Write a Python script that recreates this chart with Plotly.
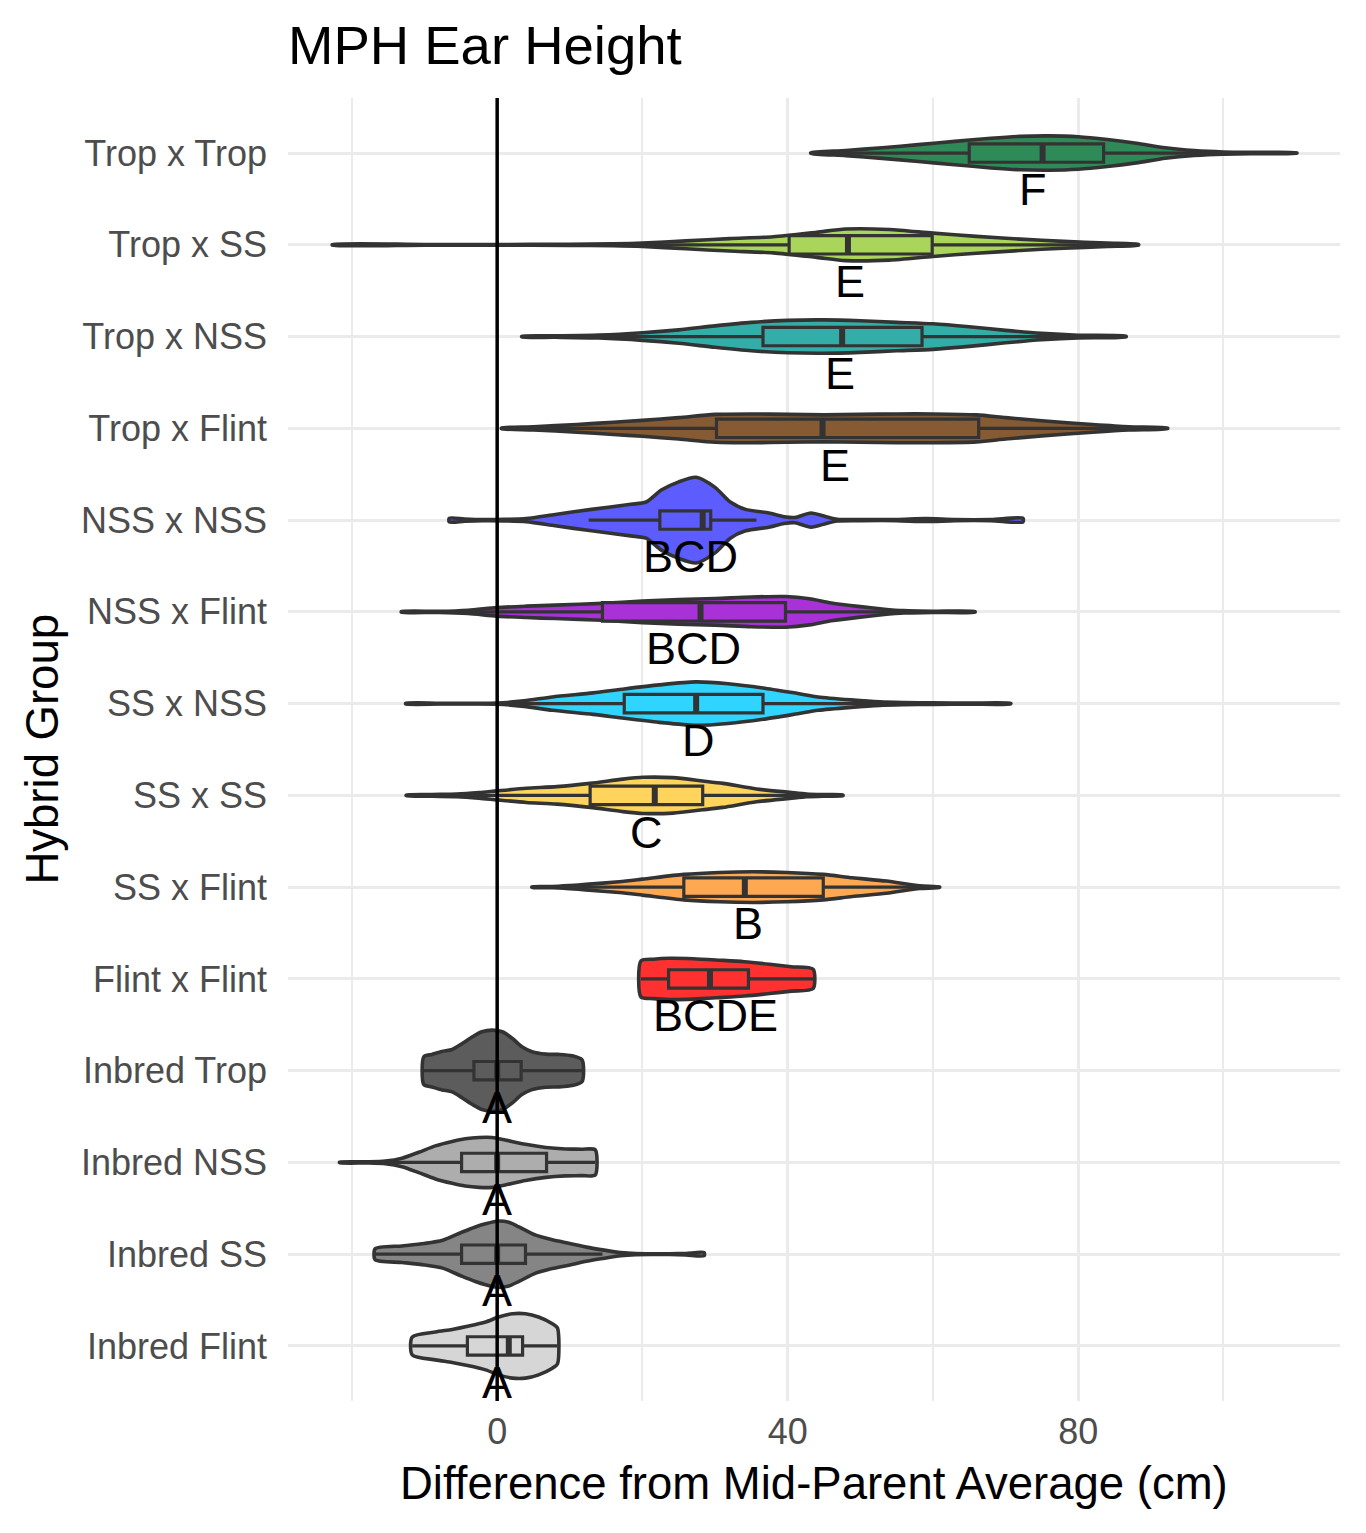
import plotly.graph_objects as go

# ---------------- data ----------------
groups = ["Trop x Trop", "Trop x SS", "Trop x NSS", "Trop x Flint", "NSS x NSS",
          "NSS x Flint", "SS x NSS", "SS x SS", "SS x Flint", "Flint x Flint",
          "Inbred Trop", "Inbred NSS", "Inbred SS", "Inbred Flint"]

colors = ["#2E8B57", "#A9D55B", "#33ADA8", "#865A32", "#5C5CFF", "#A832D8", "#30D5FF",
          "#FFD45C", "#FFA852", "#FF3030", "#5C5C5C", "#ADADAD", "#858585", "#D6D6D6"]

# violin density profiles (value, half-width in category units)
trop_trop_x = [43.2, 48, 53, 58, 63, 68, 72, 76, 80, 84, 88, 92, 96, 100, 105, 110.1]
trop_trop_w = [0.004, 0.028, 0.058, 0.092, 0.127, 0.162, 0.182, 0.187, 0.177, 0.147, 0.107, 0.057, 0.027, 0.012, 0.007, 0.003]

trop_ss_x = [-22.7, -10, 0, 10, 16, 20, 26, 32, 38, 44, 48, 54, 60, 66, 72, 78, 84, 88.3]
trop_ss_w = [0.004, 0.004, 0.004, 0.006, 0.01, 0.018, 0.043, 0.068, 0.088, 0.137, 0.172, 0.167, 0.127, 0.092, 0.062, 0.037, 0.018, 0.004]

trop_nss_x = [3.4, 8, 14, 20, 25, 30, 35, 40, 45, 50, 55, 60, 65, 70, 75, 80, 86.6]
trop_nss_w = [0.004, 0.008, 0.016, 0.041, 0.073, 0.117, 0.155, 0.177, 0.182, 0.172, 0.155, 0.139, 0.107, 0.068, 0.035, 0.014, 0.004]

trop_flint_x = [0.6, 5, 11, 16, 20, 25, 30, 35, 40, 45, 50, 55, 60, 66, 70, 75, 82, 87, 92.3]
trop_flint_w = [0.004, 0.018, 0.042, 0.067, 0.087, 0.117, 0.152, 0.157, 0.152, 0.147, 0.152, 0.157, 0.157, 0.147, 0.117, 0.082, 0.042, 0.018, 0.004]

nss_nss_x = [-6.6, -4.5, -2, 1, 4, 8, 13, 18.4, 20.5, 22.6, 25, 27.4, 30, 32.1, 34.2, 37.4, 39.5, 41, 43.2, 45.3, 46.8, 50, 55, 59, 63, 68, 72.4]
nss_nss_w = [0.02, 0.012, 0.006, 0.008, 0.017, 0.062, 0.117, 0.172, 0.197, 0.327, 0.417, 0.467, 0.357, 0.197, 0.117, 0.077, 0.037, 0.029, 0.077, 0.037, 0.01, 0.006, 0.006, 0.016, 0.006, 0.006, 0.02]

nss_flint_x = [-13.2, -8, -4, 0, 4, 8, 14.5, 20, 25, 30, 35, 39.7, 43, 46, 50, 53, 56, 60, 65.8]
nss_flint_w = [0.004, 0.006, 0.018, 0.047, 0.062, 0.073, 0.092, 0.117, 0.135, 0.145, 0.162, 0.167, 0.142, 0.097, 0.057, 0.032, 0.013, 0.006, 0.004]

ss_nss_x = [-12.6, -8, -4, 0, 3.7, 7.6, 13.2, 17.5, 22.3, 27.3, 31.8, 36.6, 41.4, 44.2, 48.7, 52.7, 56, 60, 65, 70.7]
ss_nss_w = [0.004, 0.004, 0.004, 0.006, 0.03, 0.073, 0.117, 0.16, 0.204, 0.237, 0.217, 0.171, 0.11, 0.073, 0.041, 0.019, 0.012, 0.008, 0.005, 0.004]

ss_ss_x = [-12.5, -9, -5.6, -2.5, 0, 4, 8.2, 12.8, 17.3, 20.1, 24.2, 28.3, 31.1, 35.7, 40.3, 42.6, 45, 47.6]
ss_ss_w = [0.004, 0.01, 0.014, 0.03, 0.049, 0.077, 0.095, 0.131, 0.177, 0.197, 0.193, 0.157, 0.131, 0.07, 0.033, 0.015, 0.008, 0.004]

ss_flint_x = [4.8, 7.6, 10, 12.2, 16.8, 20, 25.7, 30.6, 35.2, 39.8, 44.9, 48.9, 53.6, 58.2, 60.9]
ss_flint_w = [0.004, 0.006, 0.017, 0.03, 0.059, 0.087, 0.139, 0.16, 0.167, 0.16, 0.139, 0.102, 0.066, 0.014, 0.004]

flint_flint_x = [19.8, 21.5, 23.7, 27, 30.6, 34, 37.5, 40.5, 43.5]
flint_flint_w = [0.197, 0.215, 0.225, 0.22, 0.204, 0.187, 0.16, 0.133, 0.106]

inbred_trop_x = [-10.1, -9, -7.6, -6.2, -4.8, -3.4, -2.1, -0.7, 0.7, 2.1, 3.4, 4.8, 6.7, 8.5, 10.3, 11.7]
inbred_trop_w = [0.152, 0.177, 0.21, 0.231, 0.297, 0.369, 0.424, 0.442, 0.424, 0.351, 0.261, 0.207, 0.18, 0.177, 0.163, 0.117]

inbred_nss_x = [-21.7, -17.7, -15.4, -13.1, -10.8, -8.5, -6.2, -4.4, -2.5, -0.7, 1.1, 3.9, 6.7, 9.4, 11.7, 13.5]
inbred_nss_w = [0.004, 0.006, 0.014, 0.046, 0.111, 0.18, 0.228, 0.257, 0.272, 0.272, 0.245, 0.197, 0.163, 0.147, 0.144, 0.137]

inbred_ss_x = [-16.8, -13.1, -10, -7.5, -4.8, -3, -1.6, 0.2, 1.6, 3.0, 5.3, 7.6, 10, 12.3, 14.5, 17, 19.1, 21.5, 23.7, 26, 28.5]
inbred_ss_w = [0.06, 0.09, 0.117, 0.152, 0.242, 0.297, 0.332, 0.362, 0.347, 0.297, 0.207, 0.157, 0.117, 0.077, 0.047, 0.017, 0.006, 0.004, 0.004, 0.008, 0.017]

inbred_flint_x = [-11.7, -8.5, -6.2, -3.9, -1.6, 0.2, 2.1, 3.9, 5.7, 7.6, 8.3]
inbred_flint_w = [0.097, 0.152, 0.18, 0.217, 0.261, 0.315, 0.351, 0.351, 0.315, 0.242, 0.197]

# box-plot statistics
q1 = [65.0, 40.2, 36.6, 30.2, 22.4, 14.5, 17.5, 12.8, 25.7, 23.6, -3.2, -4.9, -4.9, -4.1]
median = [75.1, 48.3, 47.5, 44.8, 28.3, 28.0, 27.4, 21.7, 34.1, 29.3, 0.0, 0.0, 0.0, 1.6]
q3 = [83.5, 59.9, 58.5, 66.3, 29.4, 39.7, 36.6, 28.3, 44.9, 34.6, 3.3, 6.8, 3.9, 3.5]
whisker_lo = [43.2, 14.0, 4.0, 0.6, 12.6, -13.2, -10.5, -10.0, 4.8, 19.8, -10.1, -21.7, -16.8, -11.7]
whisker_hi = [110.1, 88.3, 86.6, 92.3, 35.7, 65.8, 62.0, 47.6, 60.9, 43.5, 11.7, 13.5, 14.5, 8.3]

# significance letters
letters = ["F", "E", "E", "E", "BCD", "BCD", "D", "C", "B", "BCDE", "A", "A", "A", "A"]
letter_x = [73.8, 48.6, 47.2, 46.5, 26.6, 27.0, 27.7, 20.5, 34.6, 30.0, 0.0, 0.0, 0.0, 0.0]

x_ticks = [0, 40, 80]
x_minor = [-20, 20, 60, 100]

# ---------------- figure ----------------
prof_x = [trop_trop_x, trop_ss_x, trop_nss_x, trop_flint_x, nss_nss_x, nss_flint_x, ss_nss_x,
          ss_ss_x, ss_flint_x, flint_flint_x, inbred_trop_x, inbred_nss_x, inbred_ss_x, inbred_flint_x]
prof_w = [trop_trop_w, trop_ss_w, trop_nss_w, trop_flint_w, nss_nss_w, nss_flint_w, ss_nss_w,
          ss_ss_w, ss_flint_w, flint_flint_w, inbred_trop_w, inbred_nss_w, inbred_ss_w, inbred_flint_w]

OUT = "#333333"
LW = 3.6
BOXW = 0.2
n = len(groups)
pos = [n - i for i in range(n)]
FONT = "Liberation Sans, Arial, Helvetica, sans-serif"

fig = go.Figure()

for i in range(n):
    xs, ws, p = prof_x[i], prof_w[i], pos[i]
    vx = list(xs) + list(xs[::-1]) + [xs[0]]
    vy = [p + w for w in ws] + [p - w for w in ws[::-1]] + [p + ws[0]]
    fig.add_trace(go.Scatter(
        x=vx, y=vy, mode="lines", fill="toself", fillcolor=colors[i],
        line=dict(color=OUT, width=LW, shape="spline", smoothing=0.7),
        hoverinfo="skip", showlegend=False))

for i in range(n):
    fig.add_trace(go.Box(
        y=[pos[i]], q1=[q1[i]], median=[median[i]], q3=[q3[i]],
        lowerfence=[whisker_lo[i]], upperfence=[whisker_hi[i]],
        orientation="h", width=BOXW, fillcolor=colors[i],
        line=dict(color=OUT, width=3.2), whiskerwidth=0, boxpoints=False,
        yaxis="y2", hoverinfo="skip", showlegend=False))

for i in range(n):
    fig.add_trace(go.Scatter(
        x=[median[i], median[i]], y=[pos[i] - BOXW / 2, pos[i] + BOXW / 2],
        mode="lines", line=dict(color=OUT, width=6), yaxis="y2",
        hoverinfo="skip", showlegend=False))

for i in range(n):
    fig.add_annotation(x=letter_x[i], y=pos[i] - 0.4, text=letters[i], showarrow=False,
                       xref="x", yref="y", font=dict(size=45, color="black", family=FONT),
                       xanchor="center", yanchor="middle")

fig.add_shape(type="line", xref="x", yref="paper", x0=0, x1=0, y0=0, y1=1,
              line=dict(color="black", width=3.5), layer="above")

fig.add_annotation(text="Difference from Mid-Parent Average (cm)", xref="paper", yref="paper",
                   x=0.5, y=-0.063, showarrow=False, xanchor="center", yanchor="middle",
                   font=dict(size=45.5, color="black", family=FONT))
fig.add_annotation(text="Hybrid Group", xref="paper", yref="paper", x=-0.2338, y=0.5,
                   showarrow=False, textangle=-90, xanchor="center", yanchor="middle",
                   font=dict(size=45.5, color="black", family=FONT))

yr = [0.4, n + 0.6]
fig.update_layout(
    width=1366, height=1533,
    margin=dict(l=288, r=26, t=98, b=132),
    paper_bgcolor="white", plot_bgcolor="white", showlegend=False,
    font=dict(family=FONT),
    title=dict(text="MPH Ear Height", x=288 / 1366, xanchor="left", xref="container",
               y=1 - 45 / 1533, yanchor="middle", yref="container",
               font=dict(size=54.5, color="black", family=FONT)),
    xaxis=dict(range=[-28.8, 116.05], tickvals=x_ticks, ticktext=[str(v) for v in x_ticks],
               showgrid=True, gridcolor="#EBEBEB", gridwidth=3, zeroline=False, showline=False,
               ticks="", tickfont=dict(size=36, color="#4D4D4D", family=FONT),
               ticklabelstandoff=6,
               minor=dict(tickvals=x_minor, showgrid=True, gridcolor="#EBEBEB", gridwidth=1.6)),
    yaxis=dict(range=yr, tickvals=pos, ticktext=groups, showgrid=True, gridcolor="#EBEBEB",
               gridwidth=3, zeroline=False, showline=False, ticks="",
               tickfont=dict(size=36, color="#4D4D4D", family=FONT), ticklabelstandoff=20),
    yaxis2=dict(range=yr, overlaying="y", visible=False, showgrid=False),
    boxmode="overlay",
)

fig.write_html("out.html")
